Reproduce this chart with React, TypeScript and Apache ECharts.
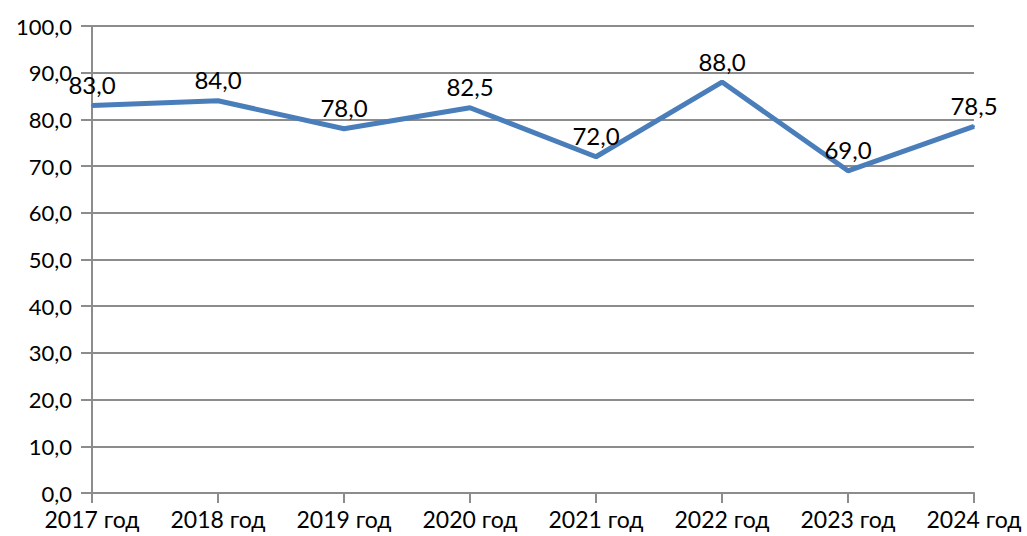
import React, { useEffect, useRef } from "react";
import * as echarts from "echarts";

const categories = ["2017 год", "2018 год", "2019 год", "2020 год", "2021 год", "2022 год", "2023 год", "2024 год"];
const values = [83.0, 84.0, 78.0, 82.5, 72.0, 88.0, 69.0, 78.5];
const yMin = 0;
const yMax = 100;
const yInterval = 10;

const fmt = (v: number) => v.toFixed(1).replace(".", ",");

export default function App() {
  const ref = useRef<HTMLDivElement>(null);
  useEffect(() => {
    const chart = echarts.init(ref.current!, null, { renderer: "svg" });
    chart.setOption({
      animation: false,
      backgroundColor: "#ffffff",
      textStyle: { fontFamily: "Lato" },
      grid: { left: 92, right: 53, top: 26, bottom: 43, containLabel: false },
      xAxis: {
        type: "category",
        data: categories,
        boundaryGap: false,
        axisLine: { show: true, lineStyle: { color: "#8c8c8c", width: 2 } },
        axisTick: { show: true, length: 10, alignWithLabel: true, lineStyle: { color: "#8c8c8c", width: 2 } },
        axisLabel: { color: "#000", fontSize: 23, fontFamily: "Lato", margin: 14 },
        splitLine: { show: false },
      },
      yAxis: {
        type: "value",
        min: yMin,
        max: yMax,
        interval: yInterval,
        axisLine: { show: true, lineStyle: { color: "#8c8c8c", width: 2 } },
        axisTick: { show: true, length: 11, lineStyle: { color: "#8c8c8c", width: 2 } },
        axisLabel: { color: "#000", fontSize: 22, fontFamily: "Lato", margin: 20, formatter: (v: number) => fmt(v) },
        splitLine: { show: true, lineStyle: { color: "#8c8c8c", width: 2 } },
      },
      series: [
        {
          type: "line",
          data: values,
          symbol: "circle",
          symbolSize: 2,
          showSymbol: true,
          showAllSymbol: true,
          lineStyle: { color: "#4a7ebb", width: 5 },
          itemStyle: { color: "#4a7ebb" },
          label: {
            show: true,
            position: "top",
            distance: 8,
            color: "#000",
            fontSize: 24,
            fontFamily: "Lato",
            formatter: (p: any) => fmt(p.value),
          },
        },
      ],
    });
    return () => chart.dispose();
  }, []);
  return <div ref={ref} style={{ position: "fixed", left: 0, top: 0, width: 1027, height: 536 }} />;
}
